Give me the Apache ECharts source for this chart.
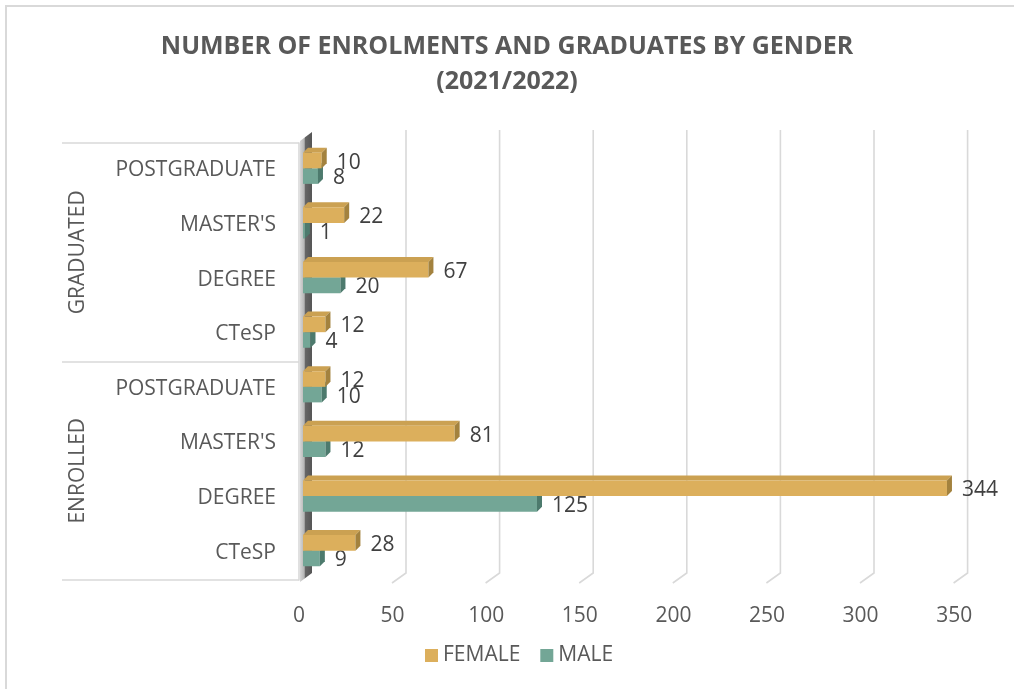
<!DOCTYPE html>
<html>
<head>
<meta charset="utf-8">
<script src="https://cdn.jsdelivr.net/npm/echarts@6/dist/echarts.min.js"></script>
<style>
html,body{margin:0;padding:0;background:#fff;overflow:hidden;}
#frame{position:absolute;left:5px;top:5px;width:1100px;height:800px;border:2px solid #d9d9d9;box-sizing:border-box;}
#chart{position:absolute;left:0;top:0;width:1014px;height:689px;}
</style>
</head>
<body>
<div id="frame"></div>
<div id="chart"></div>
<script>
// ---- data ----
const groups = ['GRADUATED', 'ENROLLED'];
const levels = ['POSTGRADUATE', "MASTER'S", 'DEGREE', 'CTeSP'];
const female = [10, 22, 67, 12, 12, 81, 344, 28];
const male = [8, 1, 20, 4, 10, 12, 125, 9];
const xTicks = [0, 50, 100, 150, 200, 250, 300, 350];
const seriesNames = ['FEMALE', 'MALE'];

// ---- build ----
const categories = [];
groups.forEach(g => levels.forEach(l => categories.push(g + '|' + l)));

const FONT = '"Open Sans", sans-serif';
const colors = {
  FEMALE: { front: '#DCAF5C', top: '#CBA152', side: '#A3823E' },
  MALE: { front: '#73A696', top: '#64978A', side: '#4D7A6D' }
};

function makeBarRender(name) {
  const c = colors[name];
  return function (params, api) {
    const val = api.value(0), cat = api.value(1);
    const p0 = api.coord([0, cat]);
    const p1 = api.coord([val, cat]);
    const band = api.size([0, 1])[1];
    const h = band * 0.285;
    const split = p0[1] - 2;
    const yTop = name === 'FEMALE' ? split - h : split;
    const x0 = p0[0], x1 = p1[0];
    const dx = 5, dy = -5;
    return {
      type: 'group',
      children: [
        { type: 'polygon', shape: { points: [[x0, yTop], [x1, yTop], [x1 + dx, yTop + dy], [x0 + dx, yTop + dy]] }, style: { fill: c.top } },
        { type: 'rect', shape: { x: x0, y: yTop, width: x1 - x0, height: h }, style: { fill: c.front } },
        { type: 'polygon', shape: { points: [[x1, yTop], [x1 + dx, yTop + dy], [x1 + dx, yTop + dy + h], [x1, yTop + h]] }, style: { fill: c.side } },
        { type: 'text', x: x1 + dx + 10, y: yTop + h / 2 + 2, style: { text: String(val), fill: '#404040', font: '21px ' + FONT, verticalAlign: 'middle', align: 'left' } }
      ]
    };
  };
}

function gridRender(params, api) {
  const v = api.value(0);
  const cs = params.coordSys;
  const p = api.coord([v, 0]);
  const top = cs.y - 11;
  const bottom = cs.y + cs.height - 7;
  if (v === 0) {
    const xl = p[0] - 3, xr = p[0] + 9;
    return {
      type: 'polygon',
      shape: { points: [[xl, top + 9], [xr, top], [xr, bottom], [xl, bottom + 9]] },
      style: {
        fill: new echarts.graphic.LinearGradient(0, 0, 1, 0, [
          { offset: 0, color: '#d6d6d6' },
          { offset: 0.35, color: '#b5b5b5' },
          { offset: 0.45, color: '#666666' },
          { offset: 1, color: '#555555' }
        ])
      }
    };
  }
  const bx = p[0] + 9.4;
  return {
    type: 'polyline',
    shape: { points: [[bx, top - 2], [bx, bottom], [bx - 14, bottom + 10]] },
    style: { stroke: '#d9d9d9', lineWidth: 1.6, fill: null }
  };
}

const option = {
  backgroundColor: 'transparent',
  animation: false,
  title: {
    text: 'NUMBER OF ENROLMENTS AND GRADUATES BY GENDER\n(2021/2022)',
    left: 'center',
    top: 24,
    textStyle: { fontFamily: FONT, fontSize: 25, fontWeight: 'bold', color: '#595959', lineHeight: 35 }
  },
  legend: {
    data: seriesNames,
    left: 420,
    top: 640,
    icon: 'rect',
    itemWidth: 13,
    itemHeight: 13,
    itemGap: 20,
    textStyle: { fontFamily: FONT, fontSize: 21, color: '#595959' }
  },
  grid: [
    { left: 303, top: 143, width: 655.2, height: 437 },
    { left: 299, top: 143, width: 655.2, height: 437 }
  ],
  xAxis: [
    { type: 'value', gridIndex: 0, min: 0, max: 350, interval: 50, show: false },
    {
      type: 'value', gridIndex: 1, min: 0, max: 350, interval: 50,
      axisLine: { show: false }, axisTick: { show: false }, splitLine: { show: false },
      axisLabel: { margin: 26, fontFamily: FONT, fontSize: 21, color: '#595959',
        formatter: v => xTicks.indexOf(v) >= 0 ? String(v) : '' }
    }
  ],
  yAxis: [
    {
      type: 'category', gridIndex: 0, data: categories, inverse: true,
      axisLine: { show: false }, axisTick: { show: false }, splitLine: { show: false },
      axisLabel: { margin: 27, fontFamily: FONT, fontSize: 21, color: '#595959',
        padding: [4, 0, 0, 0],
        formatter: v => v.split('|')[1] }
    },
    {
      type: 'category', gridIndex: 1, data: groups, inverse: true,
      axisLine: { show: true, lineStyle: { color: '#d9d9d9', width: 1.6 } },
      axisTick: { show: true, length: 237, lineStyle: { color: '#d9d9d9', width: 1.6 } },
      splitLine: { show: false },
      axisLabel: { rotate: 90, margin: 210, fontFamily: FONT, fontSize: 21, color: '#595959' }
    }
  ],
  series: [
    {
      name: 'grid', type: 'custom', xAxisIndex: 0, yAxisIndex: 0,
      renderItem: gridRender, data: xTicks.map(v => [v, 0]), silent: true, z: 1
    },
    {
      name: 'MALE', type: 'custom', xAxisIndex: 0, yAxisIndex: 0,
      itemStyle: { color: colors.MALE.front },
      renderItem: makeBarRender('MALE'),
      data: male.map((v, i) => [v, i]), z: 2
    },
    {
      name: 'FEMALE', type: 'custom', xAxisIndex: 0, yAxisIndex: 0,
      itemStyle: { color: colors.FEMALE.front },
      renderItem: makeBarRender('FEMALE'),
      data: female.map((v, i) => [v, i]), z: 3
    }
  ]
};

const chart = echarts.init(document.getElementById('chart'), null, { renderer: 'canvas' });
chart.setOption(option);
</script>
</body>
</html>
